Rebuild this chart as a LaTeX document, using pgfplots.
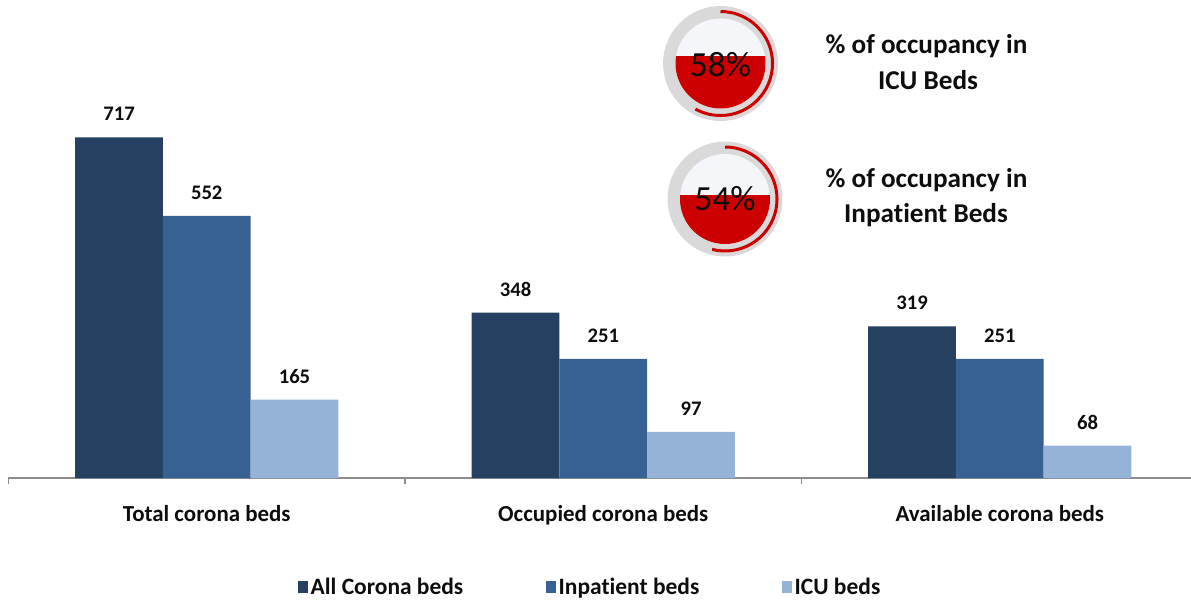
\documentclass[border=0pt]{standalone}
\usepackage{pgfplots}
\pgfplotsset{compat=1.18}
\usepackage{fontspec}
\setmainfont{Carlito}[Ligatures=NoCommon]
\definecolor{cDark}{HTML}{264062}
\definecolor{cMid}{HTML}{376093}
\definecolor{cLight}{HTML}{95B3D7}
\definecolor{axgray}{HTML}{8C8C8C}
\definecolor{gring}{HTML}{D9D9D9}
\definecolor{gred}{HTML}{CC0000}
\definecolor{gtop}{HTML}{F4F6F9}
\definecolor{txt}{HTML}{0D0D0D}
\begin{document}
\begin{tikzpicture}
\path[use as bounding box] (0,0) rectangle (893.25pt,450.75pt);
\begin{axis}[
  at={(6.375pt,92.25pt)}, anchor=south west,
  scale only axis, width=886.875pt, height=356.25pt,
  xmin=-0.5, xmax=2.4823, ymin=0, ymax=1000,
  clip=false,
  /pgf/number format/assume math mode=true,
  axis x line*=bottom, axis y line=none,
  x axis line style={-, draw=axgray, line width=0.9pt},
  xtick={0,1,2},
  xticklabels={Total corona beds, Occupied corona beds, Available corona beds},
  major tick length=0pt,
  minor xtick={-0.5,0.5,1.5,2.5},
  minor tick length=4.5pt,
  tick align=outside,
  every tick/.style={draw=axgray, line width=0.9pt},
  xticklabel style={font=\fontsize{17.2}{20}\selectfont\bfseries, text=txt, anchor=base, yshift=-32.8pt},
  ybar, bar width=65.8pt,
  legend image code/.code={\fill[#1] (0pt,-4.5pt) rectangle (7.5pt,4.5pt);},
  nodes near coords,
  every node near coord/.append style={font=\fontsize{15.5}{17}\selectfont\bfseries, text=txt, anchor=base, yshift=12.4pt},
  legend columns=3,
  legend style={at={(0.4922,-0.2295)}, anchor=center, draw=none, fill=none,
    font=\fontsize{17.6}{19}\selectfont\bfseries, text=txt,
    /tikz/every even column/.append style={column sep=60pt}},
]
\addplot[fill=cDark, draw=none, bar shift=-65.8pt] coordinates {(0,717) (1,348) (2,319)};
\addplot[fill=cMid, draw=none, bar shift=0pt] coordinates {(0,552) (1,251) (2,251)};
\addplot[fill=cLight, draw=none, bar shift=65.8pt] coordinates {(0,165) (1,97) (2,68)};
\legend{All Corona beds, Inpatient beds, ICU beds}
\end{axis}
\begin{scope}[x=0.75pt,y=0.75pt]
% gauge 1: 58%
\fill[gring] (720.5,537.5) circle[radius=43.1pt];
\fill[gtop] (720.5,537.5) circle[radius=33.75pt];
\begin{scope}
\clip (720.5,537.5) circle[radius=33.75pt];
\fill[gred] (660,470) rectangle (780,544.7);
\end{scope}
\draw[gred, line width=2.25pt] (720.5,589.5) arc[start angle=90, end angle=-118.8, radius=39pt];
\node[font=\fontsize{26.5}{30}\selectfont, text=txt] at (720.5,536.5) {58\%};
% gauge 2: 54%
\fill[gring] (725,402) circle[radius=43.1pt];
\fill[gtop] (725,402) circle[radius=33.75pt];
\begin{scope}
\clip (725,402) circle[radius=33.75pt];
\fill[gred] (660,330) rectangle (790,405.6);
\end{scope}
\draw[gred, line width=2.25pt] (725,454) arc[start angle=90, end angle=-104.4, radius=39pt];
\node[font=\fontsize{26.5}{30}\selectfont, text=txt] at (725,402) {54\%};
% titles
\node[anchor=base, font=\fontsize{20.4}{22}\selectfont\bfseries, text=txt] at (926.5,547) {\% of occupancy in};
\node[anchor=base, font=\fontsize{20.4}{22}\selectfont\bfseries, text=txt] at (928,511.5) {ICU Beds};
\node[anchor=base, font=\fontsize{20.4}{22}\selectfont\bfseries, text=txt] at (926.5,413.5) {\% of occupancy in};
\node[anchor=base, font=\fontsize{20.4}{22}\selectfont\bfseries, text=txt] at (926,378.3) {Inpatient Beds};
\end{scope}
\end{tikzpicture}
\end{document}
